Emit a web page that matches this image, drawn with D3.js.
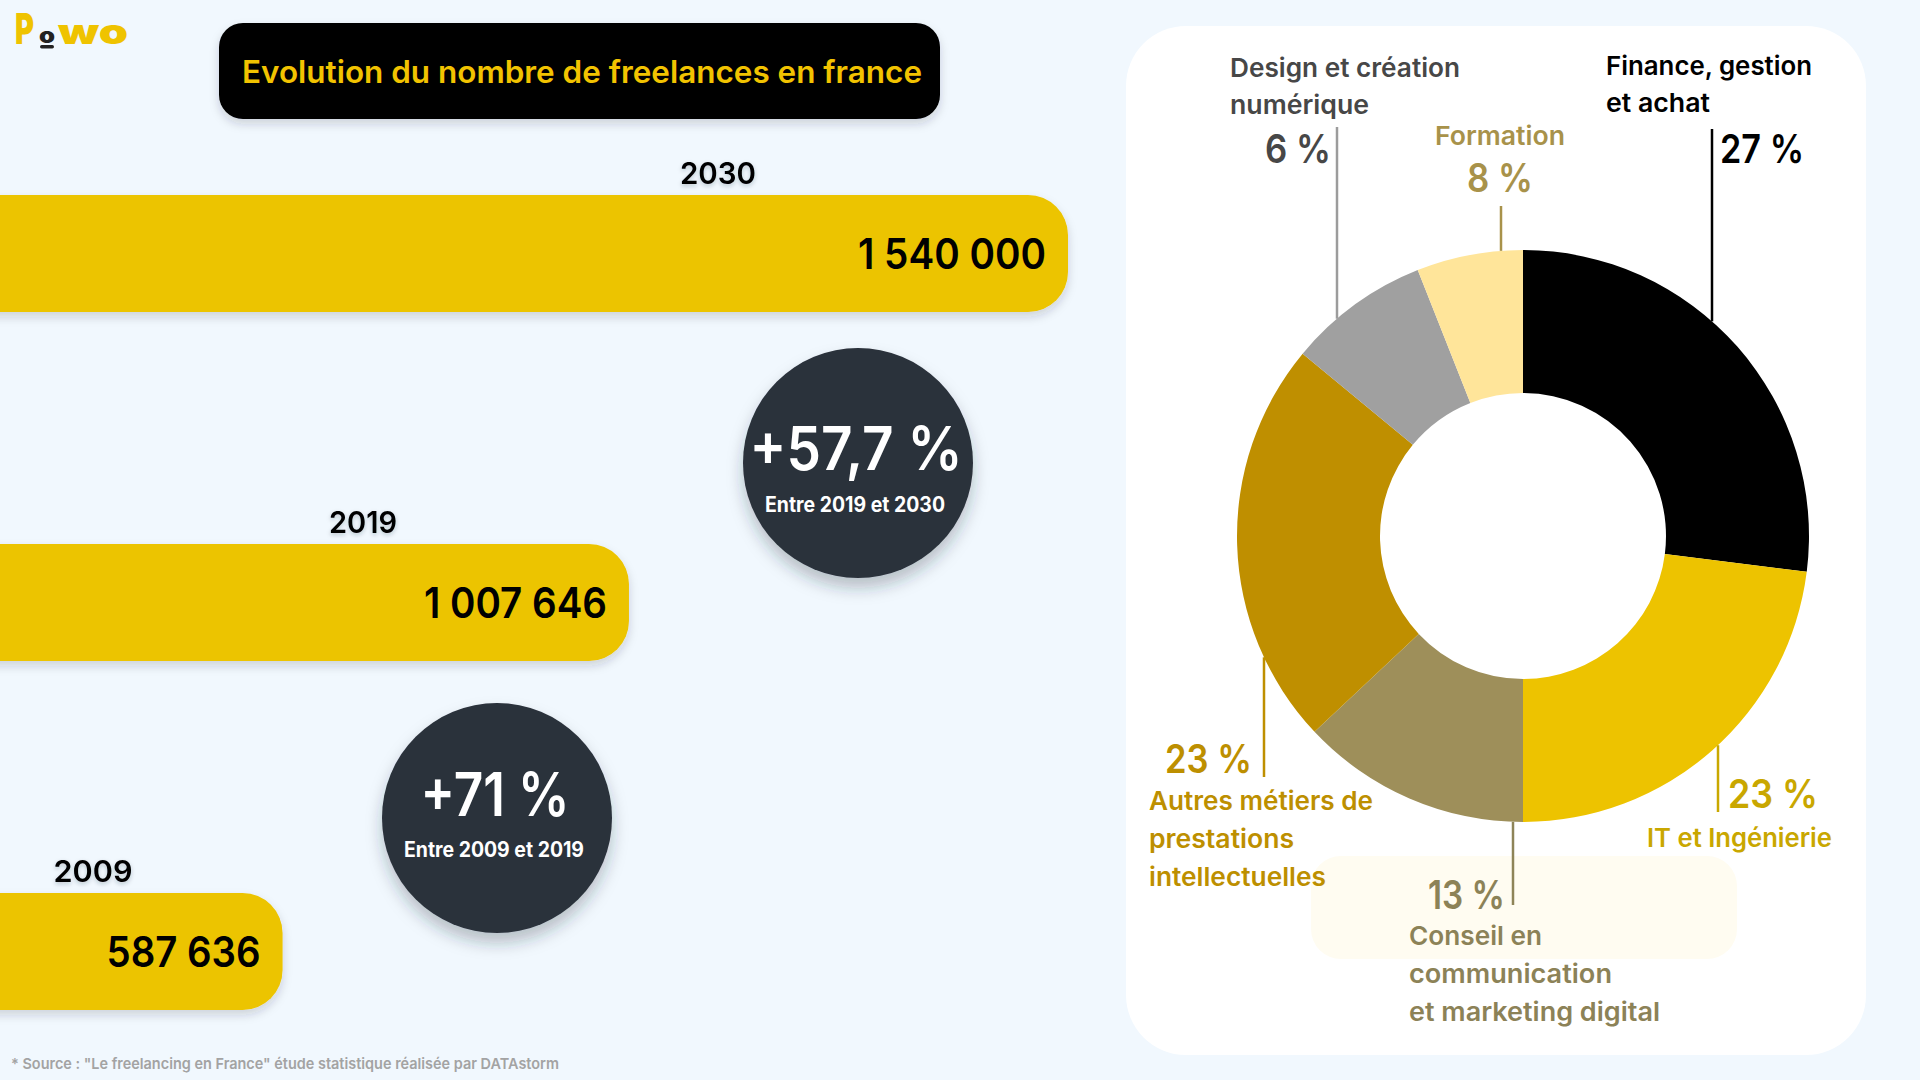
<!DOCTYPE html>
<html>
<head>
<meta charset="utf-8">
<script src="https://cdn.jsdelivr.net/npm/d3@7"></script>
<style>
  html, body { margin: 0; padding: 0; background: #f1f8fe; }
  svg { display: block; font-family: Inter, "Open Sans", sans-serif; }
</style>
</head>
<body>
<script>
// bars: number of freelances in France
const years = ["2030", "2019", "2009"];
const freelancers = [1540000, 1007646, 587636];
const growthLabels = ["+57,7 %", "+71 %"];
const growthPeriods = ["Entre 2019 et 2030", "Entre 2009 et 2019"];

// donut: share by sector (arcs as drawn, labels as printed)
const sectors = [
  ["Finance, gestion", "et achat"],
  ["IT et Ingénierie"],
  ["Conseil en", "communication", "et marketing digital"],
  ["Autres métiers de", "prestations", "intellectuelles"],
  ["Design et création", "numérique"],
  ["Formation"]
];
const shares = [27, 23, 13, 23, 8, 6];
const shareLabels = ["27 %", "23 %", "13 %", "23 %", "6 %", "8 %"];

const W = 1920, H = 1080;
const frNum = d3.formatLocale({ decimal: ",", thousands: " ", grouping: [3], currency: ["", " €"] }).format(",d");

const svg = d3.select("body").append("svg").attr("width", W).attr("height", H);
const defs = svg.append("defs");

function shadow(id, dy, blur, op) {
  defs.append("filter")
    .attr("id", id)
    .attr("x", "-30%").attr("y", "-30%")
    .attr("width", "160%").attr("height", "170%")
    .append("feDropShadow")
    .attr("dx", 0).attr("dy", dy)
    .attr("stdDeviation", blur)
    .attr("flood-color", "#1d2b3c")
    .attr("flood-opacity", op);
}
shadow("soft", 5, 5, 0.18);
shadow("round", 10, 8, 0.28);
shadow("txt", 2, 2, 0.25);

function fit(sel, w) {
  if (w) sel.attr("textLength", w).attr("lengthAdjust", "spacingAndGlyphs");
  return sel;
}

// logo
const logo = svg.append("g");
fit(logo.append("text").attr("x", 15).attr("y", 44).attr("font-size", 42).attr("font-weight", 900)
  .attr("fill", "#efc300").text("P"), 19);
fit(logo.append("text").attr("x", 39).attr("y", 43).attr("font-size", 21).attr("font-weight", 900)
  .attr("fill", "#222").text("o"), 16);
logo.append("rect").attr("x", 40).attr("y", 45).attr("width", 14).attr("height", 3.5).attr("rx", 1.7).attr("fill", "#222");
fit(logo.append("text").attr("x", 58).attr("y", 44).attr("font-size", 35).attr("font-weight", 900)
  .attr("fill", "#efc300").text("wo"), 70);

// title
svg.append("rect")
  .attr("x", 219).attr("y", 23).attr("width", 721).attr("height", 96).attr("rx", 24)
  .attr("fill", "#000").attr("filter", "url(#soft)");
fit(svg.append("text").attr("x", 582).attr("y", 83).attr("text-anchor", "middle")
  .attr("font-size", 31).attr("font-weight", 600).attr("fill", "#f2c300")
  .text("Evolution du nombre de freelances en france"), 680);

// bars
const x = d3.scaleLinear().domain([245000, 1540000]).range([0, 1068]);
const y = d3.scalePoint().domain(years).range([195, 893]);
const barH = 117;
const yearLabelX = [718, 363, 93];
const yearWidths = [76, 68, 79];
const valueWidths = [188, 183, 154];

svg.selectAll("rect.bar")
  .data(years)
  .join("rect")
  .attr("class", "bar")
  .attr("x", -60)
  .attr("y", d => y(d))
  .attr("width", (d, i) => x(freelancers[i]) + 60)
  .attr("height", barH)
  .attr("rx", 40)
  .attr("fill", "#ecc400")
  .attr("filter", "url(#soft)");

svg.selectAll("text.value")
  .data(years)
  .join("text")
  .attr("class", "value")
  .attr("x", (d, i) => x(freelancers[i]) - 22)
  .attr("y", d => y(d) + barH / 2 + 15)
  .attr("text-anchor", "end")
  .attr("font-size", 42)
  .attr("font-weight", 600)
  .attr("fill", "#000")
  .text((d, i) => frNum(freelancers[i]))
  .each(function (d, i) { fit(d3.select(this), valueWidths[i]); });

svg.selectAll("text.year")
  .data(years)
  .join("text")
  .attr("class", "year")
  .attr("x", (d, i) => yearLabelX[i])
  .attr("y", d => y(d) - 11)
  .attr("text-anchor", "middle")
  .attr("font-size", 30)
  .attr("font-weight", 600)
  .attr("fill", "#000")
  .attr("filter", "url(#txt)")
  .text(d => d)
  .each(function (d, i) { fit(d3.select(this), yearWidths[i]); });

// growth bubbles
const bubbles = [
  { cx: 858, cy: 463, big: 470, small: 512, bigW: 213 },
  { cx: 497, cy: 818, big: 816, small: 857, bigW: 149 }
];
const bub = svg.selectAll("g.bubble").data(bubbles).join("g").attr("class", "bubble");
bub.append("circle")
  .attr("cx", d => d.cx).attr("cy", d => d.cy).attr("r", 115)
  .attr("fill", "#2a313b").attr("filter", "url(#round)");
bub.append("text")
  .attr("x", d => d.cx - 2).attr("y", d => d.big)
  .attr("text-anchor", "middle").attr("font-size", 60).attr("font-weight", 600).attr("fill", "#fff")
  .text((d, i) => growthLabels[i])
  .each(function (d) { fit(d3.select(this), d.bigW); });
bub.append("text")
  .attr("x", d => d.cx - 3).attr("y", d => d.small)
  .attr("text-anchor", "middle").attr("font-size", 21).attr("font-weight", 700).attr("fill", "#fff")
  .text((d, i) => growthPeriods[i])
  .each(function () { fit(d3.select(this), 180); });

// source
fit(svg.append("text").attr("x", 11).attr("y", 1069).attr("font-size", 15).attr("font-weight", 600)
  .attr("fill", "#a3a3a3")
  .text("* Source : \"Le freelancing en France\" étude statistique réalisée par DATAstorm"), 548);

// right panel
svg.append("rect")
  .attr("x", 1126).attr("y", 26).attr("width", 740).attr("height", 1029).attr("rx", 60)
  .attr("fill", "#fff");
svg.append("rect")
  .attr("x", 1311).attr("y", 856).attr("width", 426).attr("height", 103).attr("rx", 30)
  .attr("fill", "#fffcf1");

// donut
const cx = 1523, cy = 536, R = 286, R0 = 143;
const sliceColors = ["#000000", "#edc300", "#9e8f5a", "#bf8f00", "#a0a0a0", "#ffe59a"];
const lineColors = ["#000000", "#c9a800", "#8e8458", "#bf8f00", "#9c9c9c", "#a8924a"];
const textColors = ["#000000", "#c9a700", "#8c8257", "#bd8f00", "#474747", "#a8924a"];

const pie = d3.pie().sort(null).value(d => d);
const arc = d3.arc().innerRadius(R0).outerRadius(R);
const donut = svg.append("g").attr("transform", `translate(${cx},${cy})`);
donut.selectAll("path")
  .data(pie(shares))
  .join("path")
  .attr("d", arc)
  .attr("fill", (d, i) => sliceColors[i]);

// callouts: vertical leader from the ring edge, then label texts
const callouts = [
  { lx: 1712, to: 129, px: 1720, py: 163, pa: "start", pw: 84, nx: 1606, ny: 75, step: 37, na: "start", nw: [206, 104] },
  { lx: 1718, to: 812, px: 1728, py: 808, pa: "start", pw: 90, nx: 1647, ny: 847, step: 38, na: "start", nw: [185] },
  { lx: 1513, to: 905, px: 1505, py: 909, pa: "end", pw: 77, nx: 1409, ny: 945, step: 38, na: "start", nw: [133, 203, 251] },
  { lx: 1264, to: 777, px: 1252, py: 773, pa: "end", pw: 87, nx: 1149, ny: 810, step: 38, na: "start", nw: [224, 145, 177] },
  { lx: 1337, to: 127, px: 1331, py: 163, pa: "end", pw: 66, nx: 1230, ny: 77, step: 37, na: "start", nw: [230, 139] },
  { lx: 1501, to: 206, px: 1500, py: 192, pa: "middle", pw: 66, nx: 1500, ny: 145, step: 37, na: "middle", nw: [130] }
];

callouts.forEach((c, i) => {
  const dx = c.lx - cx;
  const dy = Math.sqrt(R * R - dx * dx);
  const y0 = c.to < cy ? cy - dy : cy + dy;
  svg.append("line")
    .attr("x1", c.lx).attr("x2", c.lx)
    .attr("y1", y0).attr("y2", c.to)
    .attr("stroke", lineColors[i]).attr("stroke-width", 2.5);

  fit(svg.append("text")
    .attr("x", c.px).attr("y", c.py)
    .attr("text-anchor", c.pa)
    .attr("font-size", 40).attr("font-weight", 600)
    .attr("fill", textColors[i])
    .text(shareLabels[i]), c.pw);

  sectors[i].forEach((line, j) => {
    fit(svg.append("text")
      .attr("x", c.nx).attr("y", c.ny + j * c.step)
      .attr("text-anchor", c.na)
      .attr("font-size", 26).attr("font-weight", 600)
      .attr("fill", textColors[i])
      .text(line), c.nw[j]);
  });
});
</script>
</body>
</html>
